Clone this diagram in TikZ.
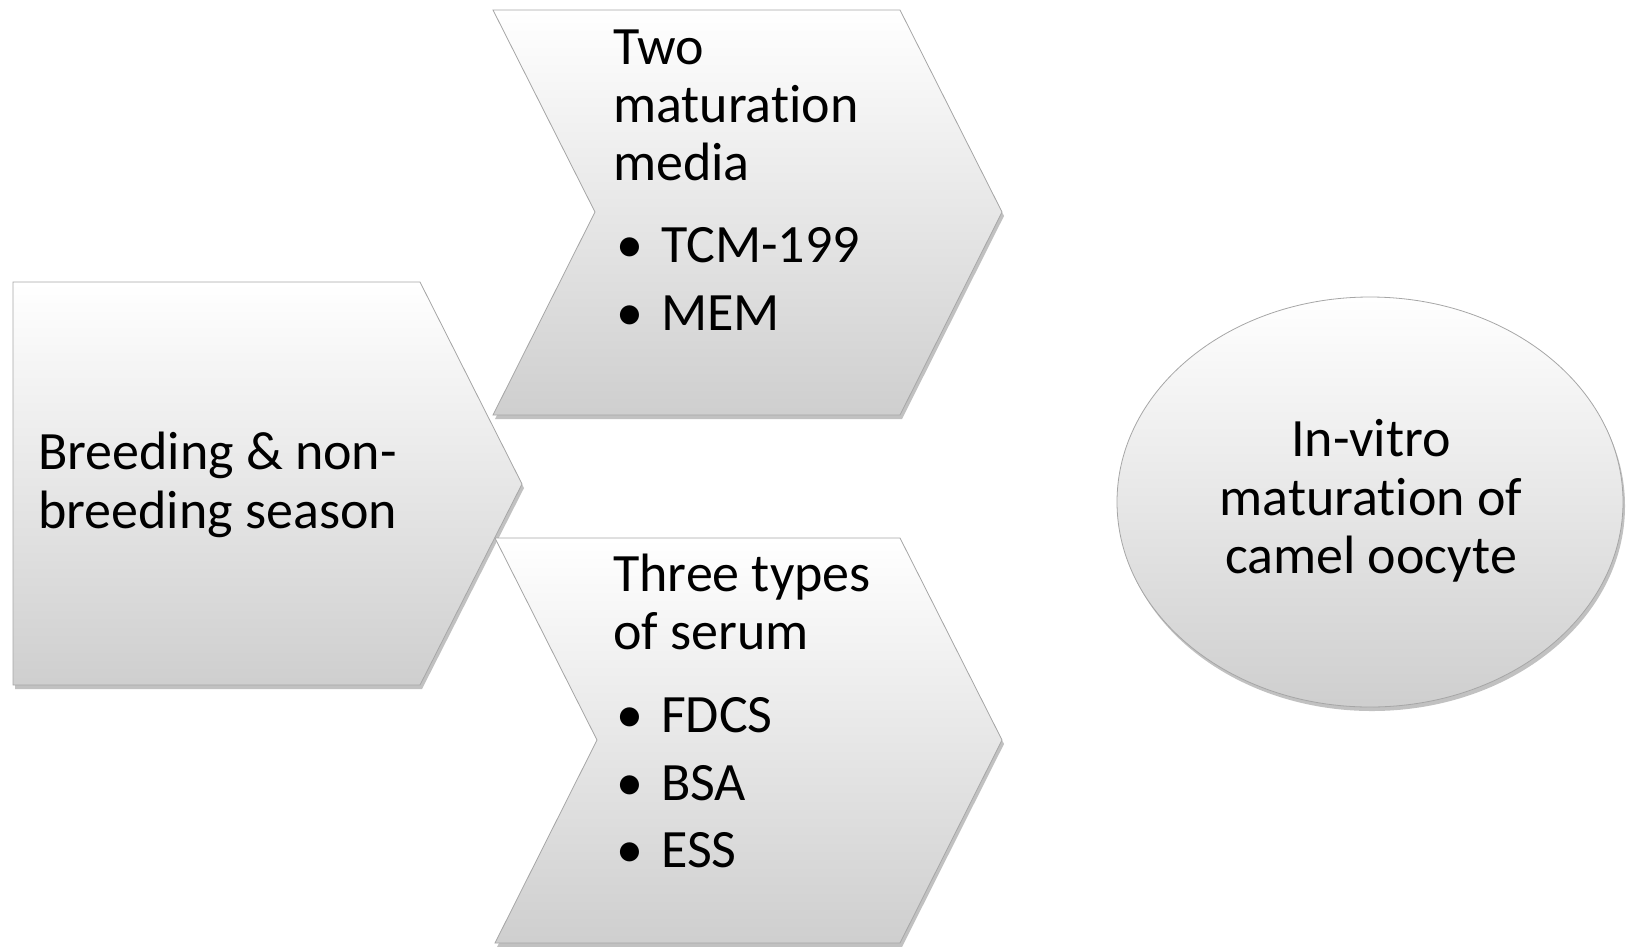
\documentclass[tikz,border=0pt]{standalone}
\usepackage{fontspec}
\setmainfont{Carlito}[Ligatures={NoCommon}]
\usetikzlibrary{shadows}
\begin{document}
\begin{tikzpicture}[x=1pt,y=-1pt,
  shp/.style={draw=black!35, line width=0.8pt, top color=white, bottom color=black!19,
    drop shadow={shadow xshift=2pt, shadow yshift=-4pt, opacity=0.35, fill=black!70}},
  txt/.style={inner sep=0pt, anchor=base west, font=\fontsize{54}{58}\selectfont},
  ctxt/.style={inner sep=0pt, anchor=base, font=\fontsize{54}{58}\selectfont}]
\useasboundingbox (0,0) rectangle (1629,946);
% left pentagon
\coordinate (l1) at (13,282);
\coordinate (l2) at (420,282);
\coordinate (l3) at (522,484);
\coordinate (l4) at (420,685);
\coordinate (l5) at (13,685);
\path[shp] (l1) -- (l2) -- (l3) -- (l4) -- (l5) -- cycle;
% top chevron
\coordinate (a1) at (493,10);
\coordinate (a2) at (900,10);
\coordinate (a3) at (1002,212);
\coordinate (a4) at (900,415);
\coordinate (a5) at (493,415);
\coordinate (a6) at (595,212);
\path[shp] (a1) -- (a2) -- (a3) -- (a4) -- (a5) -- (a6) -- cycle;
% bottom chevron
\coordinate (b1) at (495,538);
\coordinate (b2) at (900,538);
\coordinate (b3) at (1002,740);
\coordinate (b4) at (900,943);
\coordinate (b5) at (495,943);
\coordinate (b6) at (597,740);
\path[shp] (b1) -- (b2) -- (b3) -- (b4) -- (b5) -- (b6) -- cycle;
% ellipse
\coordinate (ec) at (1370,502);
\path[shp] (ec) ellipse [x radius=253, y radius=205];
% texts
\node[txt] (l-t1) at (38,469) {Breeding \& non-};
\node[txt] (l-t2) at (38,528) {breeding season};
\node[txt] (a-t1) at (613,64) {Two};
\node[txt] (a-t2) at (613,122) {maturation};
\node[txt] (a-t3) at (613,180) {media};
\node[txt] (a-b1) at (616,262) {•};
\node[txt] (a-i1) at (661,262) {TCM-199};
\node[txt] (a-b2) at (616,330) {•};
\node[txt] (a-i2) at (661,330) {MEM};
\node[txt] (b-t1) at (613,591) {Three types};
\node[txt] (b-t2) at (613,649) {of serum};
\node[txt] (b-b1) at (616,732) {•};
\node[txt] (b-i1) at (661,732) {FDCS};
\node[txt] (b-b2) at (616,800) {•};
\node[txt] (b-i2) at (661,800) {BSA};
\node[txt] (b-b3) at (616,867) {•};
\node[txt] (b-i3) at (661,867) {ESS};
\node[ctxt] (e-t1) at (1371,456) {In-vitro};
\node[ctxt] (e-t2) at (1371,515) {maturation of};
\node[ctxt] (e-t3) at (1371,573) {camel oocyte};
\end{tikzpicture}
\end{document}
